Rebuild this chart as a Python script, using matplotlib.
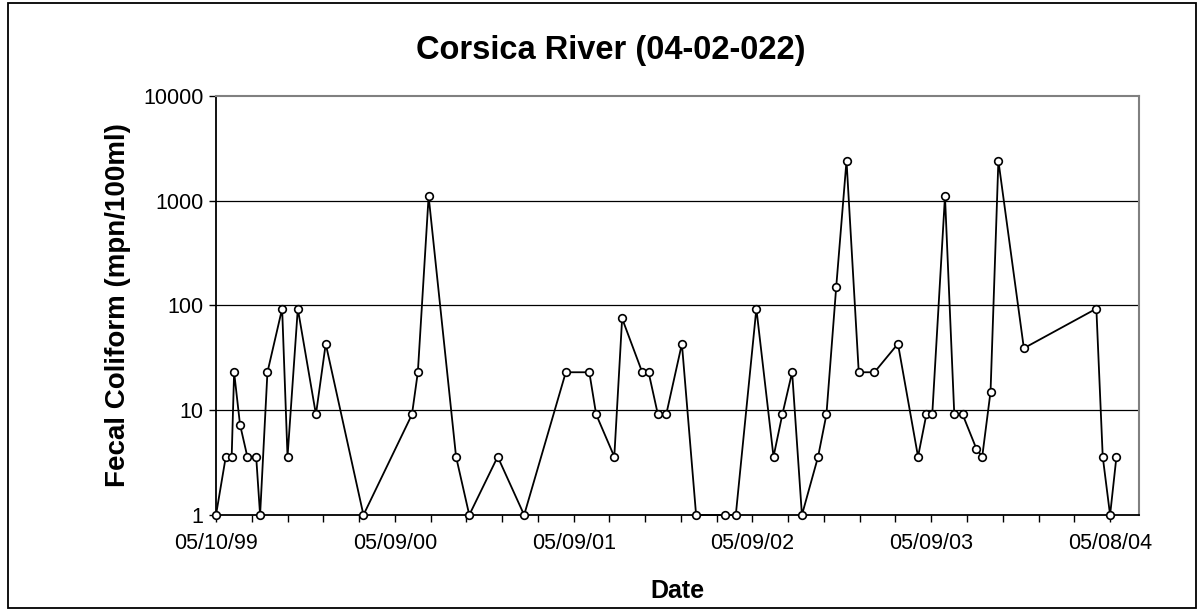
import datetime as dt
import matplotlib
matplotlib.use("Agg")
import matplotlib.pyplot as plt
import matplotlib.dates as mdates
from matplotlib.patches import Rectangle
from matplotlib.ticker import FixedLocator, FuncFormatter, NullLocator

plt.rcParams["font.family"] = ["Liberation Sans", "DejaVu Sans"]

# sampling dates and fecal coliform counts (MPN/100ml)
sample_dates = [
    "1999-05-10", "1999-05-30", "1999-06-11", "1999-06-16", "1999-06-28",
    "1999-07-13", "1999-07-31", "1999-08-08", "1999-08-23", "1999-09-22",
    "1999-10-03", "1999-10-24", "1999-11-30", "1999-12-20", "2000-03-06",
    "2000-06-13", "2000-06-25", "2000-07-17", "2000-09-11", "2000-10-08",
    "2000-12-05", "2001-01-28", "2001-04-23", "2001-06-10", "2001-06-24",
    "2001-07-31", "2001-08-16", "2001-09-26", "2001-10-09", "2001-10-28",
    "2001-11-14", "2001-12-16", "2002-01-14", "2002-03-13", "2002-04-05",
    "2002-05-17", "2002-06-21", "2002-07-09", "2002-07-29", "2002-08-18",
    "2002-09-20", "2002-10-07", "2002-10-27", "2002-11-17", "2002-12-12",
    "2003-01-13", "2003-03-02", "2003-04-12", "2003-04-29", "2003-05-11",
    "2003-06-06", "2003-06-25", "2003-07-12", "2003-08-09", "2003-08-21",
    "2003-09-07", "2003-09-23", "2003-11-14", "2004-04-10", "2004-04-23",
    "2004-05-08", "2004-05-21",
]
fecal_coliform = [
    1, 3.6, 3.6, 23, 7.3,
    3.6, 3.6, 1, 23, 93,
    3.6, 93, 9.1, 43, 1,
    9.1, 23, 1100, 3.6, 1,
    3.6, 1, 23, 23, 9.1,
    3.6, 75, 23, 23, 9.1,
    9.1, 43, 1, 1, 1,
    93, 3.6, 9.1, 23, 1,
    3.6, 9.1, 150, 2400, 23,
    23, 43, 3.6, 9.1, 9.1,
    1100, 9.1, 9.1, 4.3, 3.6,
    15, 2400, 39, 93, 3.6,
    1, 3.6,
]

y_ticks = [1, 10, 100, 1000, 10000]
axis_start = "1999-05-10"
axis_end = "2004-07-06"
major_step_days = 365
minor_step_days = 73

dates = [dt.datetime.strptime(d, "%Y-%m-%d") for d in sample_dates]
start = dt.datetime.strptime(axis_start, "%Y-%m-%d")
end = dt.datetime.strptime(axis_end, "%Y-%m-%d")

fig = plt.figure(figsize=(12.04, 6.11), dpi=100)
ax = fig.add_axes([0.1794, 0.1571, 0.7666, 0.6863])

ax.plot(dates, fecal_coliform, color="black", linewidth=1.3,
        marker="o", markersize=5.5, markerfacecolor="white",
        markeredgecolor="black", markeredgewidth=1.2, zorder=3, clip_on=False)

ax.set_yscale("log")
ax.set_ylim(1, 10000)
ax.yaxis.set_major_locator(FixedLocator(y_ticks))
ax.yaxis.set_minor_locator(NullLocator())
ax.yaxis.set_major_formatter(FuncFormatter(lambda v, p: f"{v:g}"))
for yv in y_ticks[1:-1]:
    ax.axhline(yv, color="black", linewidth=0.9, zorder=1)

ax.set_xlim(start, end)
n_major = (end - start).days // major_step_days
majors = [start + dt.timedelta(days=major_step_days * k) for k in range(n_major + 1)]
minors = [start + dt.timedelta(days=minor_step_days * k)
          for k in range((end - start).days // minor_step_days + 1)]
ax.xaxis.set_major_locator(FixedLocator(mdates.date2num(majors)))
ax.xaxis.set_minor_locator(FixedLocator(mdates.date2num(minors)))
ax.xaxis.set_major_formatter(mdates.DateFormatter("%m/%d/%y"))

ax.tick_params(axis="both", which="both", direction="out", length=5,
               width=1, colors="black", labelsize=15.5)
ax.tick_params(axis="x", pad=8)
ax.tick_params(axis="y", pad=4)

for side in ("top", "right"):
    ax.spines[side].set_color("#808080")
    ax.spines[side].set_linewidth(1.5)
for side in ("left", "bottom"):
    ax.spines[side].set_color("black")
    ax.spines[side].set_linewidth(1.3)

fig.text(0.507, 0.918, "Corsica River (04-02-022)", ha="center", va="center",
         fontsize=23.5, fontweight="bold")
ax.set_xlabel("Date", fontsize=18, fontweight="bold", labelpad=18)
ax.set_ylabel("Fecal Coliform (mpn/100ml)", fontsize=20, fontweight="bold",
              labelpad=9)

fig.patches.append(Rectangle((0.0066, 0.0049), 0.9868, 0.9902, fill=False,
                             edgecolor="black", linewidth=1.3,
                             transform=fig.transFigure, figure=fig))

fig.savefig("out.png", dpi=100)
